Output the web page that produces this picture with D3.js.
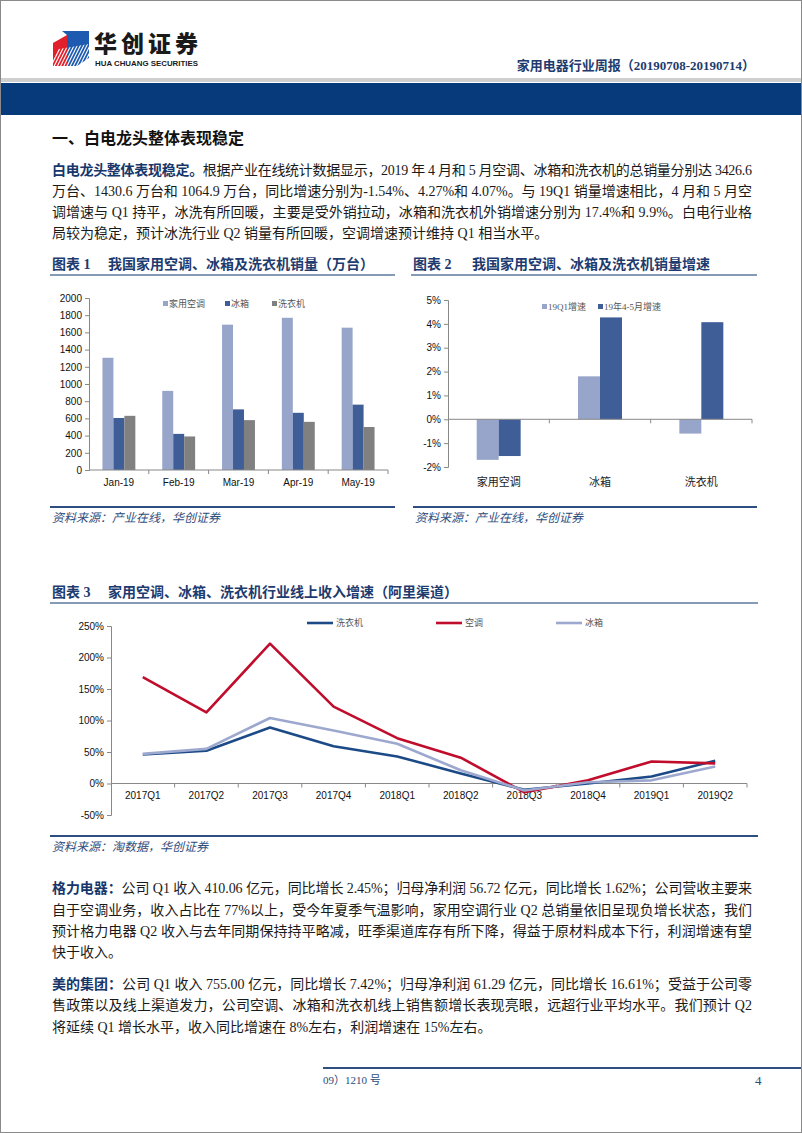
<!DOCTYPE html>
<html>
<head>
<meta charset="utf-8">
<script src="https://cdn.jsdelivr.net/npm/d3@7"></script>
<style>
  body { margin: 0; background: #fff; }
  svg { display: block; }
  .serif { font-family: "Liberation Serif", "Noto Sans CJK SC", serif; }
  .sans { font-family: "Liberation Sans", Arial, "Noto Sans CJK SC", sans-serif; }
  .body { font-size: 14px; fill: #1a1a1a; }
  .lead { font-weight: bold; fill: #17376b; }
  .figTitle { font-size: 14px; font-weight: bold; fill: #1d3b6e; }
  .source { font-size: 12px; font-style: italic; fill: #2f4d7d; }
  .tick text { font-size: 10px; fill: #111; }
</style>
</head>
<body>
<div id="page"></div>
<script>
// ---------- data ----------
// chart 1: sales (10k units)
var months = ["Jan-19", "Feb-19", "Mar-19", "Apr-19", "May-19"];
var salesSeries = ["家用空调", "冰箱", "洗衣机"];
var acSales = [1305, 920, 1690, 1770, 1655];
var fridgeSales = [605, 420, 705, 665, 760];
var washerSales = [630, 390, 580, 560, 500];
var salesTicks = [0, 200, 400, 600, 800, 1000, 1200, 1400, 1600, 1800, 2000];

// chart 2: sales growth (%)
var products = ["家用空调", "冰箱", "洗衣机"];
var growthSeries = ["19Q1增速", "19年4-5月增速"];
var growthQ1 = [-1.70, 1.80, -0.60];
var growthAprMay = [-1.54, 4.27, 4.07];
var growthTicks = [-2, -1, 0, 1, 2, 3, 4, 5];

// chart 3: online revenue growth, Ali channel (%)
var quarters = ["2017Q1", "2017Q2", "2017Q3", "2017Q4", "2018Q1", "2018Q2", "2018Q3", "2018Q4", "2019Q1", "2019Q2"];
var lineSeries = ["洗衣机", "空调", "冰箱"];
var washerOnline = [46, 52, 89, 59, 43, 16, -10, 0, 11, 36];
var acOnline = [169, 113, 222, 122, 72, 41, -14, 5, 35, 32];
var fridgeOnline = [47, 55, 104, 84, 63, 21, -11, 2, 5, 27];
var onlineTicks = [-50, 0, 50, 100, 150, 200, 250];

var barColors = ["#98a5ca", "#3f5e98", "#808080"];
var lineColors = ["#1b4a87", "#c00d2c", "#9da8cf"];

// ---------- page ----------
var W = 802, H = 1133;
var svg = d3.select("#page").append("svg")
  .attr("width", W)
  .attr("height", H);

svg.append("rect")
  .attr("x", 0.5).attr("y", 0.5)
  .attr("width", W - 1).attr("height", H - 1)
  .attr("fill", "#fff").attr("stroke", "#8a8a8a");

// logo
var logo = svg.append("g");
logo.append("polygon")
  .attr("points", "53,43 67,35 67,66 53,66")
  .attr("fill", "#e0202a");
logo.append("polygon")
  .attr("points", "62,31 89,31 89,58 77,66 67,66 67,35")
  .attr("fill", "#1e5bb0");
var stripeClip = logo.append("clipPath").attr("id", "stripes");
stripeClip.append("polygon").attr("points", "53,50 89,44 89,66 53,66");
var stripes = logo.append("g").attr("clip-path", "url(#stripes)");
d3.range(0, 14).forEach(function(i) {
  stripes.append("line")
    .attr("x1", 50 + i * 3.2).attr("y1", 68)
    .attr("x2", 62 + i * 3.2).attr("y2", 44)
    .attr("stroke", "#fff").attr("stroke-width", 1.1);
});
logo.append("text")
  .attr("x", 94).attr("y", 52)
  .attr("font-family", "Noto Sans CJK SC")
  .attr("font-weight", "900")
  .attr("font-size", 23)
  .attr("textLength", 104)
  .attr("fill", "#1a1a1a")
  .text("华创证券");
logo.append("text")
  .attr("x", 95).attr("y", 66)
  .attr("font-family", "Liberation Sans Narrow, Liberation Sans")
  .attr("font-weight", "bold")
  .attr("font-size", 8)
  .attr("textLength", 103)
  .attr("lengthAdjust", "spacingAndGlyphs")
  .attr("fill", "#1a1a1a")
  .text("HUA CHUANG SECURITIES");

svg.append("text")
  .attr("class", "serif")
  .attr("x", 755).attr("y", 70)
  .attr("text-anchor", "end")
  .attr("font-size", 13)
  .attr("font-weight", "bold")
  .attr("fill", "#1d3b6e")
  .text("家用电器行业周报（20190708-20190714）");

svg.append("rect").attr("x", 1).attr("y", 78).attr("width", W - 2).attr("height", 4).attr("fill", "#cfcfcf");
svg.append("rect").attr("x", 1).attr("y", 83).attr("width", W - 2).attr("height", 32).attr("fill", "#073a7b");

// ---------- text helpers ----------
function textLine(x, y, parts, width) {
  var t = svg.append("text")
    .attr("class", "serif body")
    .attr("x", x).attr("y", y);
  parts.forEach(function(p) {
    t.append("tspan").attr("class", p.b ? "lead" : null).text(p.t);
  });
  if (width) t.attr("textLength", width).attr("lengthAdjust", "spacing");
  return t;
}

svg.append("text")
  .attr("class", "serif")
  .attr("x", 52).attr("y", 144)
  .attr("font-size", 16).attr("font-weight", "bold").attr("fill", "#111")
  .text("一、白电龙头整体表现稳定");

textLine(52, 175, [{t: "白电龙头整体表现稳定。", b: true}, {t: "根据产业在线统计数据显示，2019 年 4 月和 5 月空调、冰箱和洗衣机的总销量分别达 3426.6"}], 700);
textLine(52, 196, [{t: "万台、1430.6 万台和 1064.9 万台，同比增速分别为-1.54%、4.27%和 4.07%。与 19Q1 销量增速相比，4 月和 5 月空"}], 700);
textLine(52, 217, [{t: "调增速与 Q1 持平，冰洗有所回暖，主要是受外销拉动，冰箱和洗衣机外销增速分别为 17.4%和 9.9%。白电行业格"}], 700);
textLine(52, 238, [{t: "局较为稳定，预计冰洗行业 Q2 销量有所回暖，空调增速预计维持 Q1 相当水平。"}]);

function figTitle(x, y, num, title, x2, lineEnd) {
  svg.append("text").attr("class", "serif figTitle").attr("x", x).attr("y", y).text("图表 " + num);
  svg.append("text").attr("class", "serif figTitle").attr("x", x2).attr("y", y).text(title);
  svg.append("line")
    .attr("x1", x - 2).attr("x2", lineEnd)
    .attr("y1", y + 6).attr("y2", y + 6)
    .attr("stroke", "#5d7a9c").attr("stroke-width", 1.5);
}
function sourceNote(x, y, lineEnd, text) {
  svg.append("line")
    .attr("x1", x - 2).attr("x2", lineEnd)
    .attr("y1", y).attr("y2", y)
    .attr("stroke", "#2d4e80").attr("stroke-width", 2);
  svg.append("text").attr("class", "serif source").attr("x", x).attr("y", y + 15).text(text);
}

figTitle(52, 269, 1, "我国家用空调、冰箱及洗衣机销量（万台）", 108, 395);
figTitle(413, 269, 2, "我国家用空调、冰箱及洗衣机销量增速", 472, 757);
sourceNote(52, 507, 395, "资料来源：产业在线，华创证券");
sourceNote(415, 507, 757, "资料来源：产业在线，华创证券");

// ---------- chart 1 ----------
var c1 = svg.append("g").attr("class", "sans");
var x1 = d3.scaleBand().domain(months).range([89, 388]).paddingInner(0.45).paddingOuter(0.225);
var x1s = d3.scaleBand().domain(salesSeries).range([0, x1.bandwidth()]);
var y1 = d3.scaleLinear().domain([0, 2000]).range([470, 298]);
var salesData = [acSales, fridgeSales, washerSales];

salesSeries.forEach(function(s, si) {
  c1.selectAll(".bar" + si)
    .data(months)
    .enter().append("rect")
    .attr("x", function(m) { return x1(m) + x1s(s); })
    .attr("y", function(m, i) { return y1(salesData[si][i]); })
    .attr("width", x1s.bandwidth())
    .attr("height", function(m, i) { return y1(0) - y1(salesData[si][i]); })
    .attr("fill", barColors[si]);
});

c1.append("g")
  .attr("transform", "translate(89,0)")
  .call(d3.axisLeft(y1).tickValues(salesTicks).tickSize(4).tickPadding(3).tickFormat(d3.format("d")))
  .call(function(g) { g.selectAll("path, line").attr("stroke", "#888"); });

var x1Axis = c1.append("g").attr("transform", "translate(0,470)");
x1Axis.append("line").attr("x1", 89).attr("x2", 388).attr("stroke", "#888");
d3.range(1, months.length + 1).forEach(function(i) {
  var bx = 89 + (388 - 89) / months.length * i;
  x1Axis.append("line").attr("x1", bx).attr("x2", bx).attr("y1", 0).attr("y2", 4).attr("stroke", "#888");
});
x1Axis.selectAll(".xl")
  .data(months)
  .enter().append("text")
  .attr("x", function(m) { return x1(m) + x1.bandwidth() / 2; })
  .attr("y", 16)
  .attr("text-anchor", "middle")
  .attr("font-size", 10).attr("fill", "#111")
  .text(function(m) { return m; });

var leg1X = [163, 225, 272];
salesSeries.forEach(function(s, i) {
  c1.append("rect").attr("x", leg1X[i]).attr("y", 301).attr("width", 5).attr("height", 5).attr("fill", barColors[i]);
  c1.append("text").attr("class", "serif").attr("x", leg1X[i] + 6).attr("y", 307)
    .attr("font-size", 9).attr("fill", "#555").text(s);
});

// ---------- chart 2 ----------
var c2 = svg.append("g").attr("class", "sans");
var x2 = d3.scaleBand().domain(products).range([448, 752]).paddingInner(0.566).paddingOuter(0.283);
var x2s = d3.scaleBand().domain(growthSeries).range([0, x2.bandwidth()]);
var y2 = d3.scaleLinear().domain([-2, 5]).range([467, 300]);
var growthData = [growthQ1, growthAprMay];

growthSeries.forEach(function(s, si) {
  c2.selectAll(".gbar" + si)
    .data(products)
    .enter().append("rect")
    .attr("x", function(p) { return x2(p) + x2s(s); })
    .attr("y", function(p, i) { return y2(Math.max(0, growthData[si][i])); })
    .attr("width", x2s.bandwidth())
    .attr("height", function(p, i) { return Math.abs(y2(growthData[si][i]) - y2(0)); })
    .attr("fill", barColors[si]);
});

c2.append("g")
  .attr("transform", "translate(448,0)")
  .call(d3.axisLeft(y2).tickValues(growthTicks).tickSize(4).tickPadding(3)
    .tickFormat(function(d) { return d + "%"; }))
  .call(function(g) { g.selectAll("path, line").attr("stroke", "#888"); });

var x2Axis = c2.append("g").attr("transform", "translate(0," + y2(0) + ")");
x2Axis.append("line").attr("x1", 448).attr("x2", 752).attr("stroke", "#888");
d3.range(1, products.length + 1).forEach(function(i) {
  var bx = 448 + (752 - 448) / products.length * i;
  x2Axis.append("line").attr("x1", bx).attr("x2", bx).attr("y1", 0).attr("y2", 4).attr("stroke", "#888");
});
c2.selectAll(".pl")
  .data(products)
  .enter().append("text")
  .attr("x", function(p) { return x2(p) + x2.bandwidth() / 2; })
  .attr("y", 486)
  .attr("text-anchor", "middle")
  .attr("font-family", "Noto Sans CJK SC")
  .attr("font-size", 11).attr("fill", "#222")
  .text(function(p) { return p; });

var leg2X = [542, 598];
growthSeries.forEach(function(s, i) {
  c2.append("rect").attr("x", leg2X[i]).attr("y", 304).attr("width", 5).attr("height", 5).attr("fill", barColors[i]);
  c2.append("text").attr("class", "serif").attr("x", leg2X[i] + 6).attr("y", 310)
    .attr("font-size", 9).attr("fill", "#555").text(s);
});

// ---------- chart 3 ----------
figTitle(52, 597, 3, "家用空调、冰箱、洗衣机行业线上收入增速（阿里渠道）", 108, 758);
sourceNote(52, 836, 758, "资料来源：淘数据，华创证券");

var c3 = svg.append("g").attr("class", "sans");
var x3 = d3.scaleBand().domain(quarters).range([111, 747]);
var y3 = d3.scaleLinear().domain([-50, 250]).range([815, 626]);
var onlineData = [washerOnline, acOnline, fridgeOnline];

c3.append("g")
  .attr("transform", "translate(111,0)")
  .call(d3.axisLeft(y3).tickValues(onlineTicks).tickSize(4).tickPadding(3)
    .tickFormat(function(d) { return d + "%"; }))
  .call(function(g) { g.selectAll("path, line").attr("stroke", "#888"); });

var x3Axis = c3.append("g").attr("transform", "translate(0," + y3(0) + ")");
x3Axis.append("line").attr("x1", 111).attr("x2", 747).attr("stroke", "#888");
quarters.forEach(function(q) {
  var bx = x3(q) + x3.bandwidth();
  x3Axis.append("line").attr("x1", bx).attr("x2", bx).attr("y1", 0).attr("y2", 4).attr("stroke", "#888");
});
x3Axis.selectAll(".ql")
  .data(quarters)
  .enter().append("text")
  .attr("x", function(q) { return x3(q) + x3.bandwidth() / 2; })
  .attr("y", 15)
  .attr("text-anchor", "middle")
  .attr("font-size", 10).attr("fill", "#111")
  .text(function(q) { return q; });

var line3 = d3.line()
  .x(function(d, i) { return x3(quarters[i]) + x3.bandwidth() / 2; })
  .y(function(d) { return y3(d); });

lineSeries.forEach(function(s, si) {
  c3.append("path")
    .datum(onlineData[si])
    .attr("d", line3)
    .attr("fill", "none")
    .attr("stroke", lineColors[si])
    .attr("stroke-width", 2.6)
    .attr("stroke-linejoin", "round");
});

var leg3X = [307, 436, 556];
lineSeries.forEach(function(s, i) {
  c3.append("line").attr("x1", leg3X[i]).attr("x2", leg3X[i] + 26).attr("y1", 623).attr("y2", 623)
    .attr("stroke", lineColors[i]).attr("stroke-width", 2.6);
  c3.append("text").attr("class", "serif").attr("x", leg3X[i] + 29).attr("y", 626)
    .attr("font-size", 9).attr("fill", "#555").text(s);
});

// ---------- company notes ----------
textLine(52, 893, [{t: "格力电器：", b: true}, {t: "公司 Q1 收入 410.06 亿元，同比增长 2.45%；归母净利润 56.72 亿元，同比增长 1.62%；公司营收主要来"}], 700);
textLine(52, 915, [{t: "自于空调业务，收入占比在 77%以上，受今年夏季气温影响，家用空调行业 Q2 总销量依旧呈现负增长状态，我们"}], 700);
textLine(52, 936, [{t: "预计格力电器  Q2 收入与去年同期保持持平略减，旺季渠道库存有所下降，得益于原材料成本下行，利润增速有望"}], 700);
textLine(52, 957, [{t: "快于收入。"}]);

textLine(52, 989, [{t: "美的集团：", b: true}, {t: "公司 Q1 收入 755.00 亿元，同比增长 7.42%；归母净利润 61.29 亿元，同比增长 16.61%；受益于公司零"}], 700);
textLine(52, 1010, [{t: "售政策以及线上渠道发力，公司空调、冰箱和洗衣机线上销售额增长表现亮眼，远超行业平均水平。我们预计  Q2"}], 700);
textLine(52, 1032, [{t: "将延续 Q1 增长水平，收入同比增速在 8%左右，利润增速在 15%左右。"}]);

// ---------- footer ----------
svg.append("line")
  .attr("x1", 323).attr("x2", W - 1)
  .attr("y1", 1068).attr("y2", 1068)
  .attr("stroke", "#2f4f7f").attr("stroke-width", 2);
svg.append("text").attr("class", "serif")
  .attr("x", 323).attr("y", 1084)
  .attr("font-size", 11).attr("fill", "#2a4a7a")
  .text("09）1210 号");
svg.append("text").attr("class", "serif")
  .attr("x", 755).attr("y", 1085)
  .attr("font-size", 13).attr("fill", "#2a4a7a")
  .text("4");
</script>
</body>
</html>
